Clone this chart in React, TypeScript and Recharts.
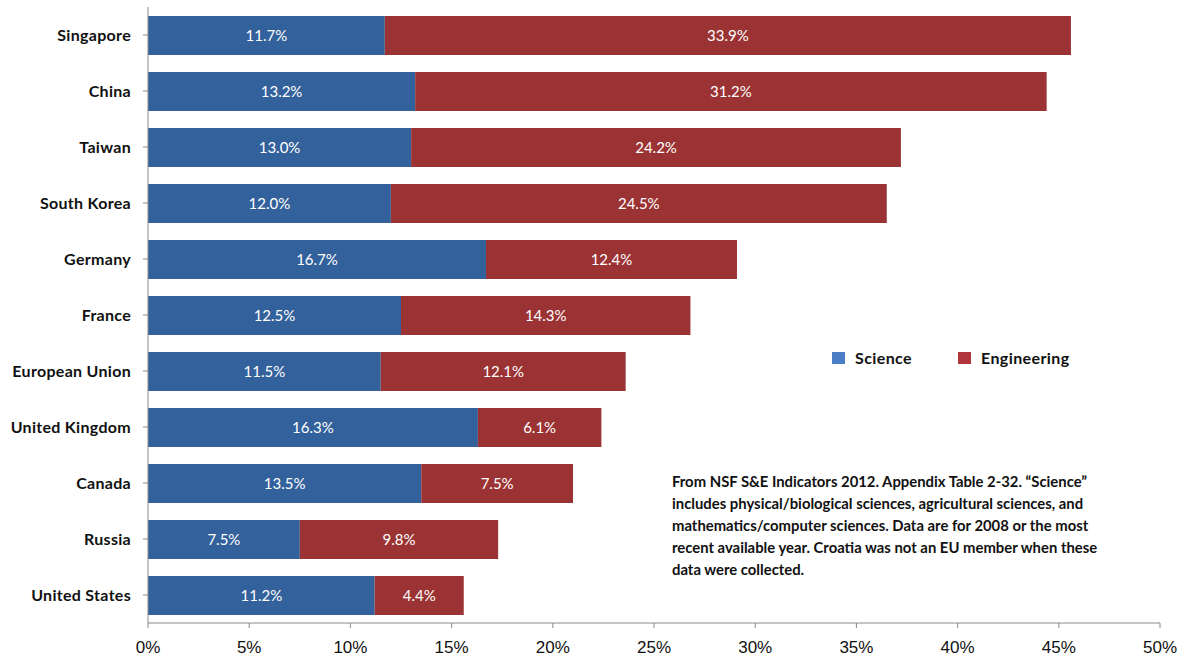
import React from 'react';
import { BarChart, Bar, XAxis, YAxis, LabelList } from 'recharts';

const countries = [
  'Singapore',
  'China',
  'Taiwan',
  'South Korea',
  'Germany',
  'France',
  'European Union',
  'United Kingdom',
  'Canada',
  'Russia',
  'United States',
];
const science = [11.7, 13.2, 13.0, 12.0, 16.7, 12.5, 11.5, 16.3, 13.5, 7.5, 11.2];
const engineering = [33.9, 31.2, 24.2, 24.5, 12.4, 14.3, 12.1, 6.1, 7.5, 9.8, 4.4];
const xTicks = [0, 5, 10, 15, 20, 25, 30, 35, 40, 45, 50];

const legendItems = [
  { label: 'Science', color: '#4a7fc6' },
  { label: 'Engineering', color: '#b0363b' },
];

const noteLines = [
  'From NSF S&E Indicators 2012. Appendix Table 2-32. \u201cScience\u201d',
  'includes physical/biological sciences, agricultural sciences, and',
  'mathematics/computer sciences. Data are for 2008 or the most',
  'recent available year. Croatia was not an EU member when these',
  'data were collected.',
];

const data = countries.map((country, i) => ({
  country,
  science: science[i],
  engineering: engineering[i],
}));

const LABEL_FONT = 'Lato, "Liberation Sans", sans-serif';
const AXIS = '#8a8a8a';

const pct = (v: any) => `${Number(v).toFixed(1)}%`;

export default function App() {
  return (
    <div style={{ position: 'absolute', left: 0, top: 0, width: '1182px', height: '661px', background: 'white' }}>
      <BarChart
        width={1182}
        height={661}
        data={data}
        layout="vertical"
        margin={{ top: 7, right: 22, bottom: 8, left: 8 }}
        barSize={39}
      >
        <XAxis
          type="number"
          domain={[0, 50]}
          ticks={xTicks}
          tickFormatter={(v) => `${v}%`}
          stroke={AXIS}
          tickSize={5}
          tickMargin={13}
          height={30}
          tick={{ fill: '#111', fontSize: 17, fontFamily: '"Liberation Sans", Arial, sans-serif' }}
          interval={0}
        />
        <YAxis
          type="category"
          dataKey="country"
          width={140}
          stroke={AXIS}
          tickSize={5}
          tickMargin={12}
          tick={{ fill: '#111', fontSize: 16, fontWeight: 'bold', fontFamily: LABEL_FONT, letterSpacing: 0.3 }}
          interval={0}
        />
        <Bar dataKey="science" stackId="a" fill="#33619b" isAnimationActive={false}>
          <LabelList
            dataKey="science"
            position="center"
            formatter={pct}
            fill="#ffffff"
            style={{ fontSize: 15, fontFamily: LABEL_FONT }}
          />
        </Bar>
        <Bar dataKey="engineering" stackId="a" fill="#9b3334" isAnimationActive={false}>
          <LabelList
            dataKey="engineering"
            position="center"
            formatter={pct}
            fill="#ffffff"
            style={{ fontSize: 15, fontFamily: LABEL_FONT }}
          />
        </Bar>
      </BarChart>

      {/* legend */}
      <div
        style={{
          position: 'absolute',
          left: '832px',
          top: '348px',
          display: 'flex',
          gap: '46px',
          fontFamily: LABEL_FONT,
        }}
      >
        {legendItems.map((item) => (
          <div key={item.label} style={{ display: 'flex', alignItems: 'center', gap: '10px' }}>
            <div style={{ width: '13px', height: '12px', background: item.color }} />
            <span style={{ fontSize: '16px', fontWeight: 'bold', letterSpacing: '0.4px', color: '#111' }}>
              {item.label}
            </span>
          </div>
        ))}
      </div>

      {/* source note */}
      <div
        style={{
          position: 'absolute',
          left: '672px',
          top: '470px',
          fontFamily: LABEL_FONT,
          fontSize: '14.85px',
          fontWeight: 'bold',
          lineHeight: '22px',
          color: '#111',
          whiteSpace: 'nowrap',
        }}
      >
        {noteLines.map((line) => (
          <div key={line}>{line}</div>
        ))}
      </div>
    </div>
  );
}
